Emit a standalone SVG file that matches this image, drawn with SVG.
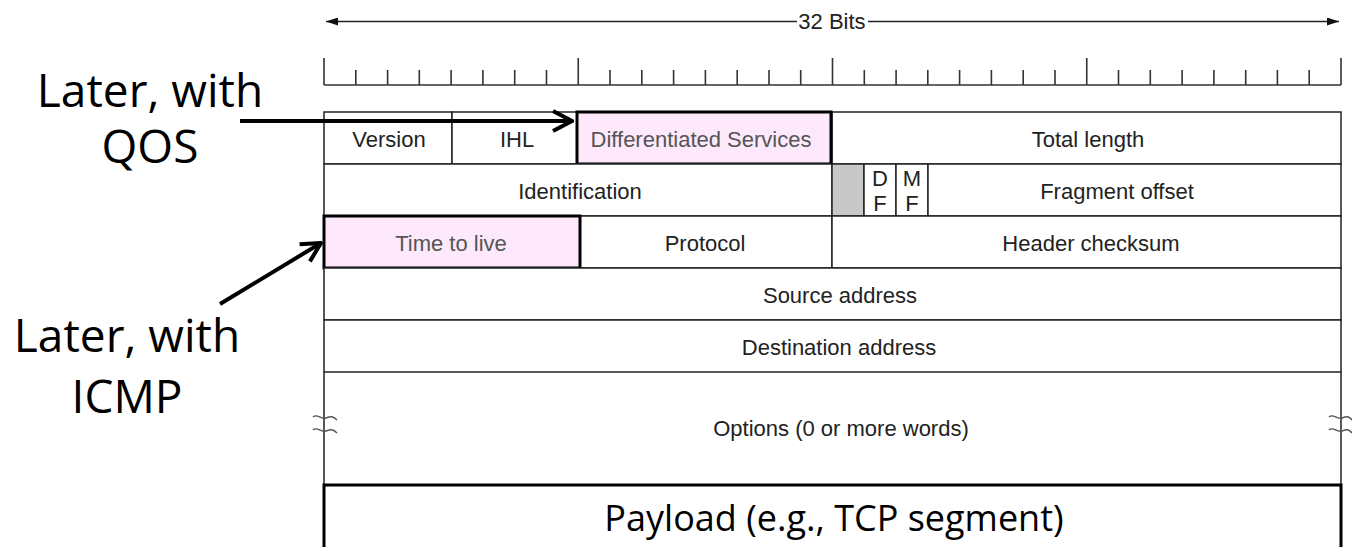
<svg xmlns="http://www.w3.org/2000/svg" width="1352" height="547" viewBox="0 0 1352 547">
<style>
.t{font-family:"Liberation Sans",Arial,sans-serif;font-size:22px;fill:#222;text-anchor:middle}
.tp{font-family:"Liberation Sans",Arial,sans-serif;font-size:22px;fill:#555;text-anchor:middle}
.big{font-family:"Open Sans","Noto Sans",sans-serif;font-size:46px;fill:#000;text-anchor:middle}
.pay{font-family:"Open Sans","Noto Sans",sans-serif;font-size:36px;fill:#000;text-anchor:middle}
.cell{fill:#fff;stroke:#222;stroke-width:1.5}
.hl{fill:#fde9fb;stroke:#000;stroke-width:3}
.rl{stroke:#333;stroke-width:1.6;fill:none}
.brk{stroke:#555;stroke-width:1.4;fill:none}
.arr{stroke:#000;stroke-width:4;fill:none}
</style>
<defs>
<marker id="open" viewBox="-24 -13 26 26" refX="0" refY="0" markerWidth="26" markerHeight="26" markerUnits="userSpaceOnUse" orient="auto">
<path d="M-19,-10 L0,0 L-19,10" fill="none" stroke="#000" stroke-width="4" stroke-linejoin="miter"/>
</marker>
<marker id="fill" viewBox="0 0 12 8" refX="12" refY="4" markerWidth="12" markerHeight="8" markerUnits="userSpaceOnUse" orient="auto">
<path d="M0,0 L12,4 L0,8 Z" fill="#111"/>
</marker>
</defs>

<g id="width-arrow">
<line x1="797" y1="21.5" x2="326" y2="21.5" stroke="#222" stroke-width="1.4" marker-end="url(#fill)"/>
<line x1="868" y1="21.5" x2="1339" y2="21.5" stroke="#222" stroke-width="1.4" marker-end="url(#fill)"/>
<text class="t" x="832" y="29">32 Bits</text>
</g>

<g id="ruler">
<path class="rl" d="M324,85 H1341 M324,58 V85 M578.25,58 V85 M832.5,58 V85 M1086.75,58 V85 M1341,58 V85
M355.8,70 V85 M387.6,70 V85 M419.3,70 V85 M451.1,70 V85 M482.9,70 V85 M514.7,70 V85 M546.5,70 V85
M610,70 V85 M641.8,70 V85 M673.6,70 V85 M705.4,70 V85 M737.2,70 V85 M769,70 V85 M800.7,70 V85
M864.3,70 V85 M896.1,70 V85 M927.8,70 V85 M959.6,70 V85 M991.4,70 V85 M1023.2,70 V85 M1055,70 V85
M1118.5,70 V85 M1150.3,70 V85 M1182.1,70 V85 M1213.9,70 V85 M1245.7,70 V85 M1277.4,70 V85 M1309.2,70 V85"/>
</g>

<g id="version"><rect class="cell" x="324" y="112" width="128" height="52"/><text class="t" x="389" y="147">Version</text></g>
<g id="ihl"><rect class="cell" x="452" y="112" width="126" height="52"/><text class="t" x="517" y="147">IHL</text></g>
<g id="total-length"><rect class="cell" x="832" y="112" width="509" height="52"/><text class="t" x="1088" y="147">Total length</text></g>
<g id="differentiated-services"><rect class="hl" x="577" y="112" width="254" height="52"/><text class="tp" x="701" y="147">Differentiated Services</text></g>

<g id="identification"><rect class="cell" x="324" y="164" width="508" height="52"/><text class="t" x="580" y="199">Identification</text></g>
<g id="reserved"><rect x="832" y="164" width="32" height="52" fill="#c8c8c8" stroke="#222" stroke-width="1.5"/></g>
<g id="df"><rect class="cell" x="864" y="164" width="32" height="52"/><text class="t" x="880" y="186">D</text><text class="t" x="880" y="211">F</text></g>
<g id="mf"><rect class="cell" x="896" y="164" width="32" height="52"/><text class="t" x="912" y="186">M</text><text class="t" x="912" y="211">F</text></g>
<g id="fragment-offset"><rect class="cell" x="928" y="164" width="413" height="52"/><text class="t" x="1117" y="199">Fragment offset</text></g>

<g id="protocol"><rect class="cell" x="580" y="216" width="252" height="52"/><text class="t" x="705" y="251">Protocol</text></g>
<g id="header-checksum"><rect class="cell" x="832" y="216" width="509" height="52"/><text class="t" x="1091" y="251">Header checksum</text></g>
<g id="time-to-live"><rect class="hl" x="324" y="216" width="256" height="52"/><text class="tp" x="451" y="251">Time to live</text></g>

<g id="source-address"><rect class="cell" x="324" y="268" width="1017" height="52"/><text class="t" x="840" y="303">Source address</text></g>
<g id="destination-address"><rect class="cell" x="324" y="320" width="1017" height="52"/><text class="t" x="839" y="355">Destination address</text></g>

<g id="options">
<path d="M324,372 V485 M1341,372 V485" stroke="#222" stroke-width="1.5" fill="none"/>
<path class="brk" d="M313,417 C317,413 321,420 326,418 S333,416 337,420 M313,430 C317,426 321,433 326,431 S333,429 337,433"/>
<path class="brk" d="M1329,417 C1333,413 1337,420 1342,418 S1349,416 1352,420 M1329,430 C1333,426 1337,433 1342,431 S1349,429 1352,433"/>
<text class="t" x="841" y="436">Options (0 or more words)</text>
</g>

<g id="payload">
<path d="M324,548 V485 H1341 V548" stroke="#000" stroke-width="3" fill="none"/>
<text class="pay" x="834" y="531">Payload (e.g., TCP segment)</text>
</g>

<g id="label-qos">
<text class="big" x="150" y="107">Later, with</text>
<text class="big" x="150" y="163">QOS</text>
</g>
<g id="label-icmp">
<text class="big" x="127" y="352">Later, with</text>
<text class="big" x="127" y="413">ICMP</text>
</g>

<g id="connectors">
<line class="arr" x1="240" y1="121" x2="572" y2="121" marker-end="url(#open)"/>
<line class="arr" x1="220" y1="304" x2="321" y2="243" marker-end="url(#open)"/>
</g>
</svg>
